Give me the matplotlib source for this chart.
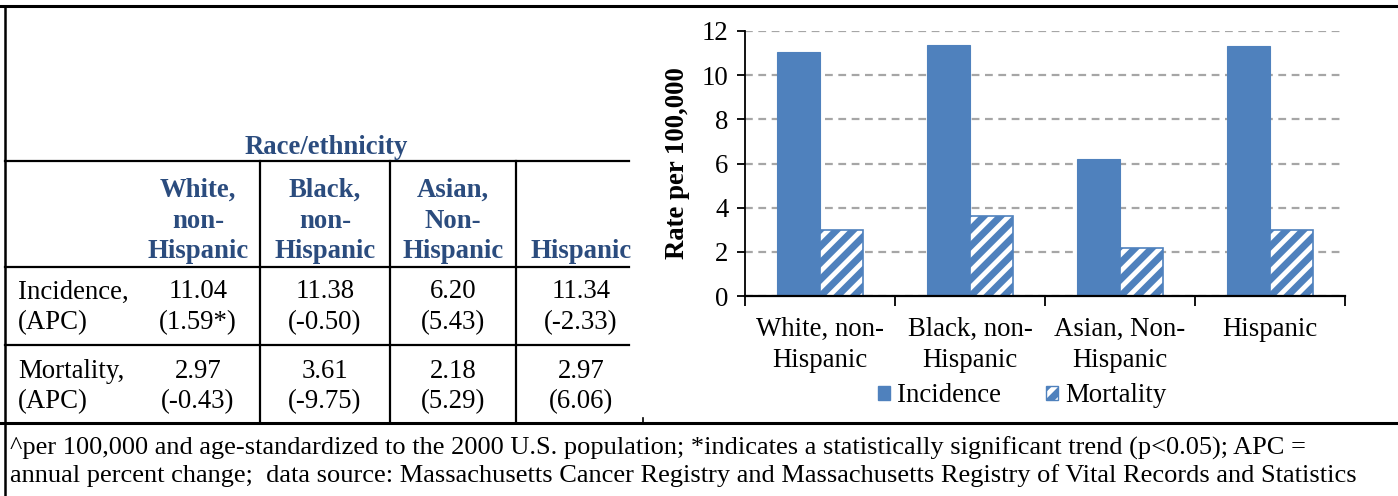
import numpy as np
import matplotlib.pyplot as plt
from matplotlib.lines import Line2D
from matplotlib.patches import Patch

plt.rcParams['font.family'] = 'Liberation Serif'
plt.rcParams['hatch.linewidth'] = 5.0

groups = ["White, non-Hispanic", "Black, non-Hispanic", "Asian, Non-Hispanic", "Hispanic"]
header_lines = [["White,", "non-", "Hispanic"], ["Black,", "non-", "Hispanic"],
                ["Asian,", "Non-", "Hispanic"], ["Hispanic"]]
axis_labels = ["White, non-\nHispanic", "Black, non-\nHispanic", "Asian, Non-\nHispanic", "Hispanic"]
incidence = [11.04, 11.38, 6.20, 11.34]
mortality = [2.97, 3.61, 2.18, 2.97]
incidence_apc = ["1.59*", "-0.50", "5.43", "-2.33"]
mortality_apc = ["-0.43", "-9.75", "5.29", "6.06"]

footnote = ("^per 100,000 and age-standardized to the 2000 U.S. population; *indicates a statistically "
            "significant trend (p<0.05); APC =\nannual percent change;  data source: Massachusetts Cancer "
            "Registry and Massachusetts Registry of Vital Records and Statistics")

BLUE = '#4F81BD'
HEAD = '#2B4C7E'
W, H = 1398, 496

fig = plt.figure(figsize=(W / 100, H / 100), dpi=100)


def fx(px):
    return px / W


def fy(py):
    return 1 - py / H


def hline(y, x0, x1, lw=1.6):
    fig.add_artist(Line2D([fx(x0), fx(x1)], [fy(y), fy(y)], color='black', lw=lw))


def vline(x, y0, y1, lw=1.6):
    fig.add_artist(Line2D([fx(x), fx(x)], [fy(y0), fy(y1)], color='black', lw=lw))


# frame and table rules
hline(6, 0, W, lw=2.2)
vline(5, 6, H, lw=1.8)
hline(161, 5, 629)
hline(267, 5, 629)
hline(345, 5, 629)
hline(423, 0, W, lw=2.2)
for x in [260, 390, 516]:
    vline(x, 161, 423)
vline(643, 418, 423, lw=1.2)

# table text
fs = 19.3
col_x = [198, 325, 453, 581]
fig.text(fx(326), fy(147), "Race/ethnicity", color=HEAD, fontsize=fs, fontweight='bold',
         ha='center', va='center')
line_y = [190, 221, 252]
for cx, lines in zip(col_x, header_lines):
    for ln, ty in zip(lines, line_y[-len(lines):]):
        fig.text(fx(cx), fy(ty), ln, color=HEAD, fontsize=fs, fontweight='bold',
                 ha='center', va='center')

rows = [("Incidence,", incidence, incidence_apc, 292, 323),
        ("Mortality,", mortality, mortality_apc, 371, 402)]
for label, vals, apcs, y1, y2 in rows:
    fig.text(fx(18), fy(y1), label, fontsize=fs, ha='left', va='center')
    fig.text(fx(18), fy(y2), "(APC)", fontsize=fs, ha='left', va='center')
    for cx, v, a in zip(col_x, vals, apcs):
        fig.text(fx(cx), fy(y1), f"{v:.2f}", fontsize=fs, ha='center', va='center')
        fig.text(fx(cx), fy(y2), f"({a})", fontsize=fs, ha='center', va='center')

fig.text(fx(10), fy(462), footnote, fontsize=19.0, ha='left', va='center', linespacing=1.24)

# bar chart
ax = fig.add_axes([fx(745), fy(296), fx(600), 265 / H])
x = np.arange(len(groups))
w = 0.287
ax.bar(x - w / 2, incidence, w, color=BLUE, edgecolor=BLUE, lw=0.8, label='Incidence')
ax.bar(x + w / 2, mortality, w, color='white', edgecolor=BLUE, hatch='//', lw=1.2, label='Mortality')

ax.set_xlim(-0.5, 3.5)
ax.set_ylim(0, 12)
ax.set_yticks(np.arange(0, 13, 2))
ax.set_xticks(x)
ax.set_xticklabels(axis_labels, fontsize=fs, linespacing=1.35)
ax.set_xticks(np.arange(-0.5, 4, 1), minor=True)
ax.tick_params(axis='x', which='major', length=0, pad=15)
ax.tick_params(axis='x', which='minor', length=7, width=1.3, direction='out')
ax.tick_params(axis='y', labelsize=fs, length=6, width=1.3, pad=6)
ax.yaxis.grid(True, color='#A6A6A6', linestyle=(0, (3.5, 2.5)), lw=1.6)
ax.set_axisbelow(True)
for s in ['top', 'right']:
    ax.spines[s].set_visible(False)
ax.spines['left'].set_linewidth(1.3)
ax.spines['bottom'].set_linewidth(1.6)
ax.set_ylabel("Rate per 100,000", fontsize=fs, fontweight='bold')
ax.yaxis.set_label_coords(-0.092, 0.5)

handles = [Patch(facecolor=BLUE, edgecolor=BLUE, label='Incidence'),
           Patch(facecolor='white', edgecolor=BLUE, hatch='//', label='Mortality')]
ax.legend(handles=handles, loc='center', bbox_to_anchor=(277 / 600, -100 / 265), ncol=2,
          frameon=False, fontsize=fs, handlelength=0.45, handleheight=0.45,
          handletextpad=0.25, columnspacing=1.7, borderaxespad=0)

fig.savefig('out.png', dpi=100)
